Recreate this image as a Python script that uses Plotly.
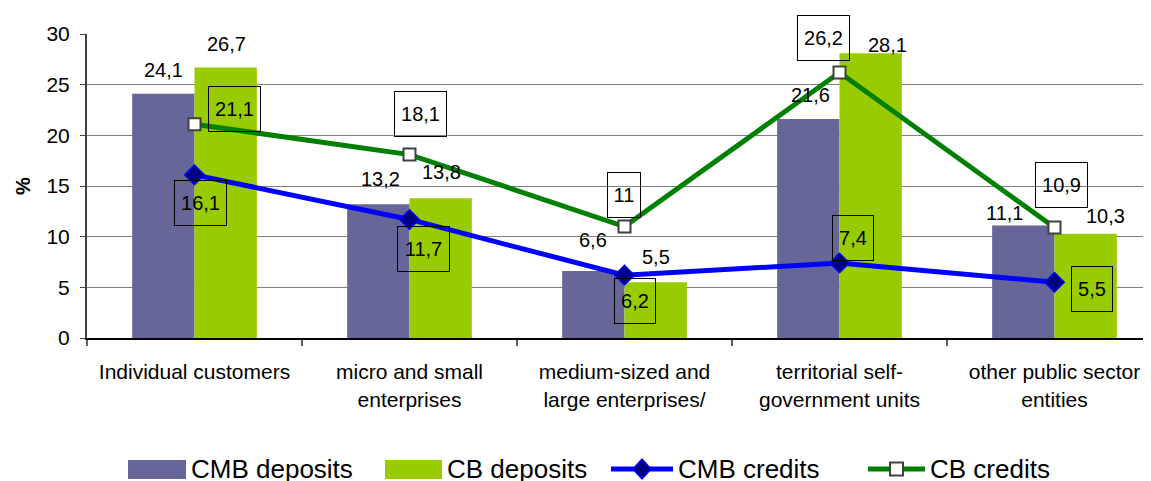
import plotly.graph_objects as go

# ---- data ----
categories = ["Individual customers",
              "micro and small<br>enterprises",
              "medium-sized and<br>large enterprises/",
              "territorial self-<br>government units",
              "other public sector<br>entities"]
cmb_deposits = [24.1, 13.2, 6.6, 21.6, 11.1]
cb_deposits = [26.7, 13.8, 5.5, 28.1, 10.3]
cmb_credits = [16.1, 11.7, 6.2, 7.4, 5.5]
cb_credits = [21.1, 18.1, 11.0, 26.2, 10.9]
y_ticks = [0, 5, 10, 15, 20, 25, 30]
series_names = ["CMB deposits", "CB deposits", "CMB credits", "CB credits"]

# ---- styling / label placement (pixel offsets) ----
C_CMB_DEP = "#666699"
C_CB_DEP = "#99CC00"
C_CMB_CR = "#0000FF"
C_CB_CR = "#008000"
FONT = "Liberation Sans, Arial, sans-serif"

cmb_dep_off = [(-31.5, 24), (-29.5, 25), (-31.5, 31), (-29.5, 24), (-50.5, 12.5)]
cb_dep_off = [(31.5, 23), (31.5, 26), (31.5, 25), (47.5, 8), (50.5, 17.5)]
cb_cr_off = [(40, 15), (11, 41), (-0.5, 31.5), (-16.5, 35), (6.5, 42.5)]
cmb_cr_off = [(6, -28.6), (13.5, -30), (10.5, -26), (13.5, 25.5), (37, -7)]
box_w = {2: 34, 3: 42, 4: 53}
BOX_H = 46

PAGE_OFF = 8          # default page body margin
W, H = 1151 - PAGE_OFF, 481 - PAGE_OFF
L, R, T = 87 - PAGE_OFF, 0, 34 - PAGE_OFF
PH = 304
B = H - T - PH
PW = W - L - R
CAT_PX = 215.0


def fmt(v):
    return ("%g" % v).replace(".", ",")


def px(xp):  # page pixel -> paper x
    return (xp - PAGE_OFF - L) / PW


def py(yp):  # page pixel -> paper y
    return (T + PH - (yp - PAGE_OFF)) / PH


fig = go.Figure()
fig.add_trace(go.Bar(x=categories, y=cmb_deposits, name=series_names[0],
                     marker=dict(color=C_CMB_DEP, line=dict(width=0))))
fig.add_trace(go.Bar(x=categories, y=cb_deposits, name=series_names[1],
                     marker=dict(color=C_CB_DEP, line=dict(width=0))))
fig.add_trace(go.Scatter(x=categories, y=cmb_credits, name=series_names[2], mode="lines+markers",
                         line=dict(color=C_CMB_CR, width=5),
                         marker=dict(symbol="diamond", size=15, color="#000080",
                                     line=dict(color=C_CMB_CR, width=1.5))))
fig.add_trace(go.Scatter(x=categories, y=cb_credits, name=series_names[3], mode="lines+markers",
                         line=dict(color=C_CB_CR, width=5),
                         marker=dict(symbol="square", size=12, color="white",
                                     line=dict(color="#404040", width=2))))

ann = []
for i, c in enumerate(categories):
    for vals, off in ((cmb_deposits, cmb_dep_off), (cb_deposits, cb_dep_off)):
        ann.append(dict(x=c, y=vals[i], text=fmt(vals[i]), showarrow=False,
                        xshift=off[i][0], yshift=off[i][1], xanchor="center", yanchor="middle",
                        font=dict(family=FONT, size=20, color="black")))
    for vals, off in ((cb_credits, cb_cr_off), (cmb_credits, cmb_cr_off)):
        t = fmt(vals[i])
        ann.append(dict(x=c, y=vals[i], text=t, showarrow=False,
                        xshift=off[i][0], yshift=off[i][1], xanchor="center", yanchor="middle",
                        width=box_w[len(t)] - 2, height=BOX_H - 2, borderpad=0,
                        bordercolor="black", borderwidth=1, align="center", valign="middle",
                        font=dict(family=FONT, size=20, color="black")))

# ---- manual legend (page pixel positions) ----
shapes = []
leg_y = 469
legend_items = [
    ("rect", C_CMB_DEP, 128, 186, 189),
    ("rect", C_CB_DEP, 385, 442, 445),
    ("diamond", C_CMB_CR, 611, 673, 676),
    ("square", C_CB_CR, 868, 925, 928),
]
for name, (kind, col, x0, x1, tx) in zip(series_names, legend_items):
    if kind == "rect":
        shapes.append(dict(type="rect", xref="paper", yref="paper",
                           x0=px(x0), x1=px(x1), y0=py(leg_y + 10), y1=py(leg_y - 9),
                           fillcolor=col, line=dict(width=0)))
    else:
        shapes.append(dict(type="line", xref="paper", yref="paper",
                           x0=px(x0), x1=px(x1), y0=py(leg_y), y1=py(leg_y),
                           line=dict(color=col, width=5)))
        cx = (x0 + x1) / 2
        if kind == "diamond":
            path = "M %f,%f L %f,%f L %f,%f L %f,%f Z" % (
                px(cx - 9), py(leg_y), px(cx), py(leg_y - 10),
                px(cx + 9), py(leg_y), px(cx), py(leg_y + 10))
            shapes.append(dict(type="path", xref="paper", yref="paper", path=path,
                               fillcolor="#000080", line=dict(color=C_CMB_CR, width=1.5)))
        else:
            shapes.append(dict(type="rect", xref="paper", yref="paper",
                               x0=px(cx - 6.5), x1=px(cx + 6.5), y0=py(leg_y + 6.5), y1=py(leg_y - 6.5),
                               fillcolor="white", line=dict(color="#404040", width=2)))
    ann.append(dict(xref="paper", yref="paper", x=px(tx), y=py(leg_y), text=name,
                    showarrow=False, xanchor="left", yanchor="middle",
                    font=dict(family=FONT, size=26, color="black")))

fig.update_layout(
    width=W, height=H,
    margin=dict(l=L, r=R, t=T, b=B, pad=0, autoexpand=False),
    paper_bgcolor="white", plot_bgcolor="white",
    barmode="group", bargap=0.42, bargroupgap=0,
    showlegend=False,
    font=dict(family=FONT, color="black"),
    annotations=ann, shapes=shapes,
)
fig.update_xaxes(range=[-0.5, PW / CAT_PX - 0.5],
                 tickson="boundaries", ticks="outside", ticklen=6, tickcolor="#606060", tickwidth=2,
                 showline=True, linecolor="black", linewidth=2, ticklabelstandoff=14,
                 showgrid=False, tickfont=dict(family=FONT, size=21, color="black"))
fig.update_yaxes(range=[0, 30], tickvals=y_ticks, ticks="outside", ticklen=5, tickcolor="#404040",
                 showline=True, linecolor="#404040", linewidth=2,
                 showgrid=True, gridcolor="#808080", gridwidth=1, zeroline=False,
                 tickfont=dict(family=FONT, size=21, color="black"), ticklabelstandoff=6,
                 title=dict(text="<b>%</b>", font=dict(family=FONT, size=20, color="black"), standoff=10))

fig.write_html("out.html")
